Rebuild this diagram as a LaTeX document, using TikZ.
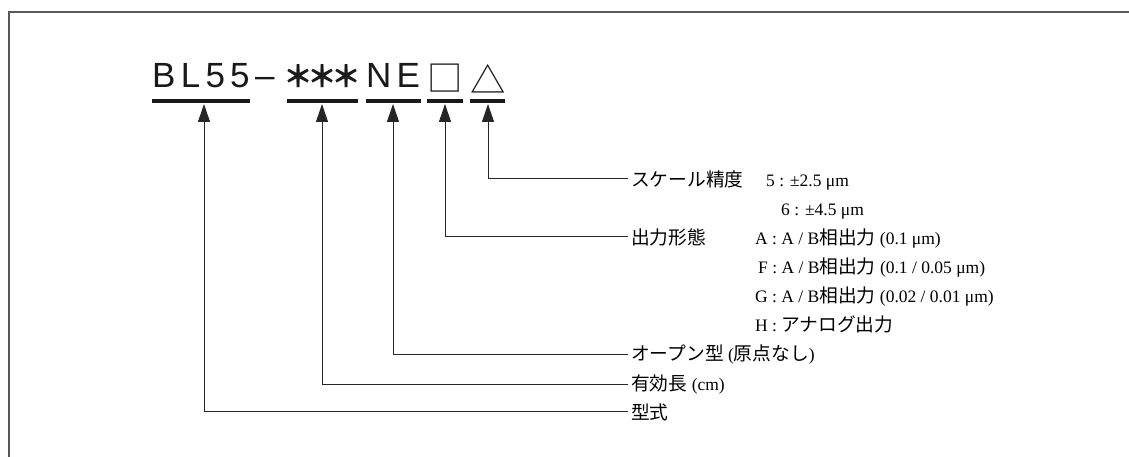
\documentclass[tikz,border=0pt]{standalone}
\usepackage{fontspec}
\setmainfont{Liberation Serif}
\newfontfamily\jp[Scale=1.07]{Noto Sans CJK JP}
\newfontfamily\hd[LetterSpace=15]{Liberation Sans}
\usetikzlibrary{arrows.meta}
\tikzset{lead/.style = {line width = 1pt, black!85, -{Triangle[width = 12pt, length = 18pt]}}}
\tikzset{bar/.style = {line width = 3.5pt, black!90}}
\tikzset{hdr/.style = {anchor = base west, inner sep = 0, text = black!90, font = \hd\fontsize{35}{40}\selectfont}}
\tikzset{sym/.style = {anchor = center, inner sep = 0, text = black!90, font = \jp\fontsize{#1}{40}\selectfont}}
\tikzset{ast/.style = {anchor = center, inner sep = 0, text = black!90, font = \jp\bfseries\fontsize{28}{40}\selectfont}}
\tikzset{lbl/.style = {anchor = base west, inner xsep = 3pt, inner ysep = 0, font = \fontsize{17.5}{20}\selectfont}}

\begin{document}
\begin{tikzpicture}[x = 1pt, y = -1pt]
  \useasboundingbox (0, 0) rectangle (1129, 457);
  \draw [line width = 2pt, black!65] (1129, 12) -- (9, 12) -- (9, 457);

  % model code
  \node [hdr] (model) at (152, 88) {BL55};
  \node [hdr] (dash) at (255, 88) {–};
  \foreach \x [count = \i] in {298, 322, 346}
    \node [ast] (ast\i) at (\x, 76) {＊};
  \node [hdr] (type) at (366, 88) {NE};
  \node [sym = 33] (out) at (445, 78) {□};
  \node [sym = 33] (acc) at (488, 79) {△};
  \foreach \a/\b in {152/250, 287/358, 366/421, 427/463, 470/505}
    \draw [bar] (\a, 101) -- (\b, 101);

  % arrow tips
  \coordinate (model-tip) at (204, 104);
  \coordinate (len-tip) at (322, 104);
  \coordinate (type-tip) at (393, 104);
  \coordinate (out-tip) at (445, 104);
  \coordinate (acc-tip) at (488, 104);

  % labels
  \node [lbl] (acc-lbl) at (628, 186) {\jp スケール精度};
  \node [lbl] (acc-5) at (763, 186) {5 : ±2.5 μm};
  \node [lbl] (acc-6) at (778, 215) {6 : ±4.5 μm};
  \node [lbl] (out-lbl) at (628, 244) {\jp 出力形態};
  \node [lbl] (out-a) at (752, 244) {A : A / B{\jp 相出力} (0.1 μm)};
  \node [lbl] (out-f) at (755, 273) {F : A / B{\jp 相出力} (0.1 / 0.05 μm)};
  \node [lbl] (out-g) at (752, 302) {G : A / B{\jp 相出力} (0.02 / 0.01 μm)};
  \node [lbl] (out-h) at (752, 331) {H : {\jp アナログ出力}};
  \node [lbl] (type-lbl) at (628, 360) {{\jp オープン型} ({\jp 原点なし})};
  \node [lbl] (len-lbl) at (628, 390) {{\jp 有効長} (cm)};
  \node [lbl] (model-lbl) at (628, 419) {\jp 型式};

  \draw [lead] (acc-lbl.west) -| (acc-tip);
  \draw [lead] (out-lbl.west) -| (out-tip);
  \draw [lead] (type-lbl.west) -| (type-tip);
  \draw [lead] (len-lbl.west) -| (len-tip);
  \draw [lead] (model-lbl.west) -| (model-tip);
\end{tikzpicture}
\end{document}
